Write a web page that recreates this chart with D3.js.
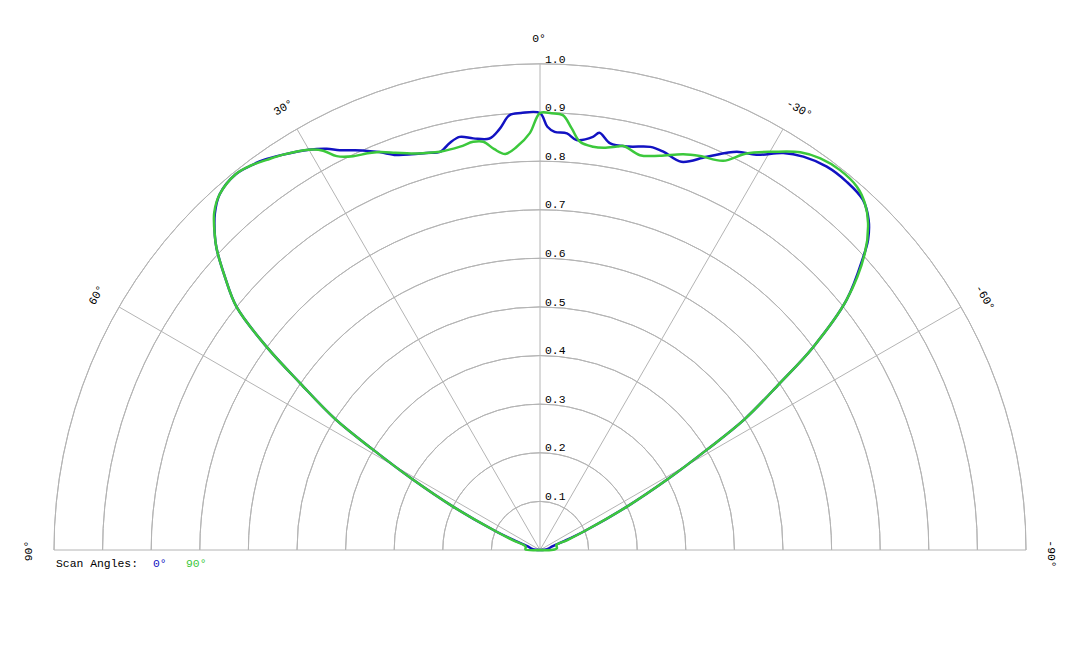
<!DOCTYPE html>
<html>
<head>
<meta charset="utf-8">
<script src="https://cdn.jsdelivr.net/npm/d3@7"></script>
<style>
  body { margin: 0; background: #fff; }
  text { font-family: "Liberation Mono", "Courier New", monospace; font-size: 11.4px; }
</style>
</head>
<body>
<svg width="1080" height="648"></svg>
<script>
// grid / tick values
var ringValues = [0.1, 0.2, 0.3, 0.4, 0.5, 0.6, 0.7, 0.8, 0.9, 1.0];
var spokeAngles = [90, 60, 30, 0, -30, -60, -90];

// scan angle 0° (blue): angle in degrees, relative intensity
var blueAngles = [90, 84, 78, 73, 70, 67, 63.5, 61, 59, 57.4, 55.2, 53.4, 51.3, 49, 47, 46, 44, 42, 39, 37, 35.4, 33, 30, 28, 26.6, 24, 22, 20, 18, 16, 14, 12.5, 11, 9.2, 7, 5.5, 4, 2.5, 0,
  -1, -2, -3.7, -5.1, -7.3, -8.1, -9.8, -12.4, -15.3, -17.2, -20, -23, -26.3, -28.7, -31.5, -33.8, -36.8, -39.8, -42.7, -44.9, -46.6, -47.8, -50.8,
  -53.4, -55.2, -57.4, -59, -61, -63.5, -67, -70, -73, -78, -84, -90];
var blueValues = [0, 0.015, 0.02, 0.03, 0.05, 0.10, 0.20, 0.30, 0.40, 0.50, 0.60, 0.70, 0.80, 0.86, 0.91, 0.93, 0.963, 0.985, 0.995, 0.99, 0.984, 0.97, 0.951, 0.935, 0.92, 0.90, 0.883, 0.865, 0.856, 0.85, 0.845, 0.858, 0.866, 0.858, 0.853, 0.87, 0.897, 0.90, 0.899,
  0.871, 0.861, 0.859, 0.847, 0.857, 0.867, 0.849, 0.850, 0.860, 0.858, 0.850, 0.879, 0.914, 0.927, 0.958, 0.974, 0.985, 0.986, 0.980, 0.958, 0.929, 0.898, 0.814,
  0.70, 0.60, 0.50, 0.40, 0.30, 0.20, 0.10, 0.05, 0.03, 0.02, 0.015, 0];

// scan angle 90° (green)
var greenAngles = [90, 88, 84, 78, 73, 70, 67, 63.5, 61, 59, 57.4, 55.2, 53.4, 51.3, 49, 47, 46, 44, 42, 39, 37, 35, 33, 30, 28.5, 27.3, 25.4, 23.5, 22, 20, 18, 16, 14.1, 11.2, 9.3, 7.9, 6.5, 5, 3.3, 1.4, 0,
  -1.5, -3, -4.3, -5.6, -7.5, -9, -10.8, -11.7, -14.2, -16.9, -19.9, -22.1, -25.2, -27.5, -30.4, -33.2, -35.6, -38.3, -41.1, -43.1, -45.1, -47.6, -50.8,
  -53.4, -55.2, -57.4, -59, -61, -63.5, -67, -70, -73, -78, -84, -88, -90];
var greenValues = [0, 0.03, 0.03, 0.03, 0.035, 0.06, 0.10, 0.20, 0.30, 0.40, 0.50, 0.60, 0.70, 0.80, 0.86, 0.91, 0.93, 0.965, 0.985, 0.995, 0.99, 0.98, 0.97, 0.951, 0.935, 0.912, 0.897, 0.89, 0.883, 0.87, 0.858, 0.85, 0.845, 0.846, 0.851, 0.848, 0.83, 0.818, 0.831, 0.858, 0.899,
  0.899, 0.896, 0.87, 0.844, 0.837, 0.838, 0.845, 0.849, 0.838, 0.848, 0.866, 0.875, 0.885, 0.92, 0.95, 0.978, 0.991, 0.996, 0.992, 0.978, 0.953, 0.905, 0.814,
  0.70, 0.60, 0.50, 0.40, 0.30, 0.20, 0.10, 0.06, 0.035, 0.035, 0.035, 0.03, 0];

var seriesNames = ["0°", "90°"];
var seriesColors = ["#1212c2", "#3cc83c"];

var svg = d3.select("svg"),
  cx = 540,
  cy = 550,
  R = 486;

var r = d3.scaleLinear().domain([0, 1]).range([0, R]);
// positive angles go to the left (counter-clockwise from 12 o'clock)
var a = d3.scaleLinear().domain([-90, 90]).range([Math.PI / 2, -Math.PI / 2]);

var g = svg.append("g").attr("transform", "translate(" + cx + "," + cy + ")");

// rings
var arc = d3.arc().startAngle(-Math.PI / 2).endAngle(Math.PI / 2).innerRadius(function(d) { return r(d); }).outerRadius(function(d) { return r(d); });
g.append("g").selectAll("path")
  .data(ringValues)
  .enter().append("path")
  .attr("d", arc)
  .attr("fill", "none")
  .attr("stroke", "#b4b4b4")
  .attr("stroke-width", 1);

// spokes
g.append("g").selectAll("line")
  .data(spokeAngles)
  .enter().append("line")
  .attr("x1", 0).attr("y1", 0)
  .attr("x2", function(d) { return r(1) * Math.sin(a(d)); })
  .attr("y2", function(d) { return -r(1) * Math.cos(a(d)); })
  .attr("stroke", "#b4b4b4")
  .attr("stroke-width", 1);

// ring labels
g.append("g").selectAll("text")
  .data(ringValues)
  .enter().append("text")
  .attr("x", 5)
  .attr("y", function(d) { return -r(d) - 1.5; })
  .attr("fill", "#000")
  .text(function(d) { return d3.format(".1f")(d); });

// angle labels
g.append("g").selectAll("text")
  .data(spokeAngles)
  .enter().append("text")
  .attr("transform", function(d) {
    var rr = r(1) + 25;
    return "translate(" + (rr * Math.sin(a(d))) + "," + (-rr * Math.cos(a(d))) + ") rotate(" + (-d) + ")";
  })
  .attr("dx", function(d) { return d < 0 ? 4 : -1; })
  .attr("text-anchor", "middle")
  .attr("dominant-baseline", "central")
  .attr("fill", "#000")
  .text(function(d) { return d + "°"; });

// curves
var line = d3.lineRadial()
  .angle(function(d) { return a(d[0]); })
  .radius(function(d) { return r(d[1]); })
  .curve(d3.curveCatmullRom);

var series = [
  d3.zip(blueAngles, blueValues),
  d3.zip(greenAngles, greenValues)
];

g.append("g").selectAll("path")
  .data(series)
  .enter().append("path")
  .attr("d", line)
  .attr("fill", "none")
  .attr("stroke", function(d, i) { return seriesColors[i]; })
  .attr("stroke-width", 2.5)
  .attr("stroke-linejoin", "round");

// legend
var legend = svg.append("text").attr("x", 56).attr("y", 567).attr("fill", "#000");
legend.append("tspan").text("Scan Angles:");
legend.selectAll("tspan.s")
  .data(seriesNames)
  .enter().append("tspan")
  .attr("class", "s")
  .attr("x", function(d, i) { return [153, 186][i]; })
  .attr("fill", function(d, i) { return seriesColors[i]; })
  .text(function(d) { return d; });
</script>
</body>
</html>
